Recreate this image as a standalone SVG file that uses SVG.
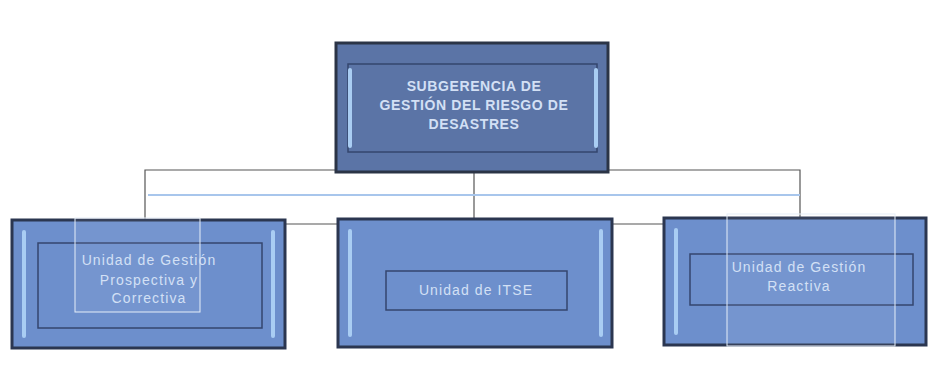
<svg xmlns="http://www.w3.org/2000/svg" width="928" height="383" viewBox="0 0 928 383">
<style>
.outer{fill:#6d8fcc;stroke:#2b3650;stroke-width:3}
.top{fill:#5b74a6;stroke:#2b3446;stroke-width:3}
.inner{fill:none;stroke:#34466e;stroke-width:1.5}
.hl{fill:none;stroke:#a9cdf3;stroke-width:4;stroke-linecap:round}
.t{font-family:"Liberation Sans",Arial,sans-serif;fill:#d3e0f5;text-anchor:middle}
.tt{font-size:14px;letter-spacing:0.6px;font-weight:bold}
.tb{font-size:14px;letter-spacing:1.1px}
.ln{stroke:#555;stroke-width:1.2;fill:none}
.blue{stroke:#a8c6ec;stroke-width:2;fill:none}
.art{fill:#ffffff;fill-opacity:0.06;stroke:#e6eef8;stroke-width:1}
</style>
<rect width="928" height="383" fill="#ffffff"/>
<g id="connectors">
<path class="ln" d="M145 221 V170 H800 V218"/>
<path class="ln" d="M474 173 V218"/>
<path class="blue" d="M148 195 H800"/>
<path class="ln" d="M286 224 H337 M612 224 H664" stroke="#888"/>
</g>
<g id="n0">
<rect class="top" x="336" y="43" width="272" height="129"/>
<rect class="inner" x="348" y="64" width="249" height="88"/>
<path class="hl" d="M350 70 V146 M596 70 V146" stroke-width="2"/>
<text class="t tt" x="474" y="91">SUBGERENCIA DE</text>
<text class="t tt" x="474" y="110">GESTIÓN DEL RIESGO DE</text>
<text class="t tt" x="474" y="129">DESASTRES</text>
</g>
<g id="n1">
<rect class="outer" x="12" y="220" width="273" height="128"/>
<path class="hl" d="M24 232 V336 M273 232 V336"/>
<rect class="inner" x="38" y="243" width="224" height="85"/>
<rect class="art" x="75" y="218" width="125" height="94"/>
<text class="t tb" x="149" y="265">Unidad de Gestión</text>
<text class="t tb" x="149" y="285">Prospectiva y</text>
<text class="t tb" x="149" y="303">Correctiva</text>
</g>
<g id="n2">
<rect class="outer" x="338" y="219" width="274" height="128"/>
<path class="hl" d="M350 231 V335 M601 231 V335"/>
<rect class="inner" x="386" y="271" width="181" height="39"/>
<text class="t tb" x="476" y="295">Unidad de ITSE</text>
</g>
<g id="n3">
<rect class="outer" x="664" y="218" width="262" height="127"/>
<path class="hl" d="M676 230 V333"/>
<rect class="inner" x="690" y="254" width="223" height="51"/>
<rect class="art" x="727" y="214" width="168" height="132"/>
<text class="t tb" x="799" y="272">Unidad de Gestión</text>
<text class="t tb" x="799" y="291">Reactiva</text>
</g>
</svg>
